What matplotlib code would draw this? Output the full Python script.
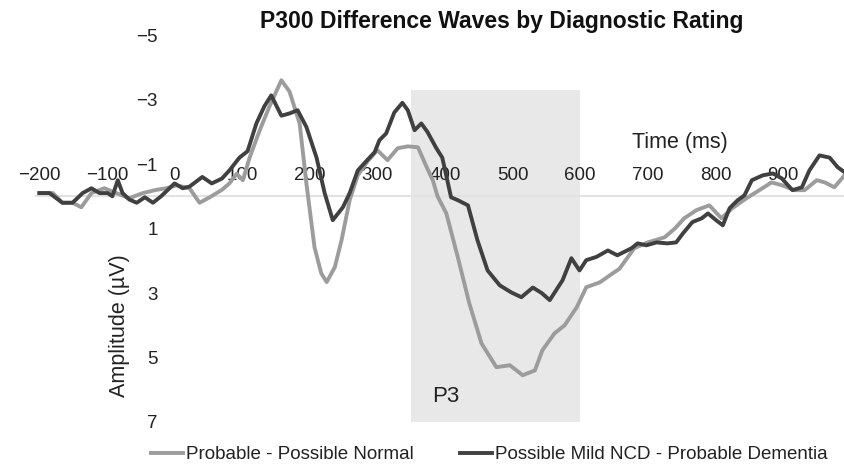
import numpy as np
import matplotlib
matplotlib.use("Agg")
import matplotlib.pyplot as plt

plt.rcParams['font.family'] = ['Liberation Sans', 'DejaVu Sans']

# time (ms) / amplitude (uV)
t_normal = [-200, -180, -166, -151, -138, -123, -104, -86, -67, -47, -27, -12, 3, 22, 37, 52,
            70, 81, 92, 101, 111, 126, 140, 158, 170, 185, 195, 207, 217, 225, 237, 247, 259,
            271, 286, 300, 315, 330, 345, 360, 373, 382, 389, 402, 419, 436, 454, 476, 496,
            515, 533, 544, 562, 577, 595, 609, 629, 648, 658, 680, 700, 725, 740, 754, 772,
            791, 809, 825, 846, 865, 883, 899, 917, 932, 950, 962, 976, 991]
v_normal = [-0.1, -0.1, 0.2, 0.2, 0.34, -0.1, -0.25, -0.1, 0.06, -0.1, -0.2, -0.25, -0.34,
            -0.25, 0.2, 0.03, -0.2, -0.4, -0.7, -0.5, -1.2, -2.05, -2.77, -3.6, -3.25, -2.26,
            -0.4, 1.58, 2.39, 2.66, 2.2, 1.36, 0.12, -0.65, -1.1, -1.43, -1.12, -1.49, -1.55,
            -1.52, -0.9, -0.5, 0.0, 0.53, 1.89, 3.32, 4.56, 5.3, 5.24, 5.55, 5.4, 4.78, 4.25,
            4.0, 3.44, 2.82, 2.67, 2.39, 2.25, 1.61, 1.43, 1.27, 1.0, 0.68, 0.43, 0.28, 0.68,
            0.37, 0.06, -0.19, -0.43, -0.34, -0.19, -0.19, -0.5, -0.43, -0.28, -0.65]

t_mild = [-200, -185, -166, -151, -136, -123, -111, -99, -92, -84, -77, -67, -56, -44, -32,
          -20, -10, 0, 12, 22, 41, 55, 70, 81, 96, 108, 121, 133, 143, 158, 170, 182, 195,
          210, 222, 234, 249, 259, 271, 284, 296, 303, 313, 325, 337, 345, 355, 365, 374,
          387, 396, 409, 419, 434, 448, 463, 481, 498, 513, 530, 543, 555, 574, 587, 599,
          609, 624, 641, 655, 676, 685, 698, 713, 729, 742, 752, 766, 780, 789, 801, 811,
          821, 833, 843, 854, 870, 885, 898, 914, 928, 939, 954, 969, 981, 991]
v_mild = [-0.1, -0.1, 0.2, 0.2, -0.1, -0.25, -0.1, -0.1, 0.0, -0.5, -0.1, 0.1, 0.2, 0.03,
          0.2, 0.0, -0.2, -0.4, -0.25, -0.3, -0.6, -0.4, -0.55, -0.8, -1.2, -1.4, -2.26,
          -2.8, -3.13, -2.5, -2.57, -2.67, -2.15, -1.2, -0.1, 0.74, 0.34, -0.1, -0.8, -1.1,
          -1.37, -1.74, -1.95, -2.6, -2.9, -2.67, -2.05, -2.26, -2.0, -1.5, -1.2, 0.03, 0.12,
          0.28, 1.36, 2.3, 2.76, 2.98, 3.13, 2.83, 3.0, 3.22, 2.6, 1.92, 2.3, 1.98, 1.88,
          1.68, 1.83, 1.61, 1.46, 1.52, 1.43, 1.46, 1.43, 1.15, 0.8, 0.68, 0.53, 0.74, 0.9,
          0.37, 0.12, -0.03, -0.5, -0.65, -0.71, -0.56, -0.19, -0.28, -0.8, -1.27, -1.2,
          -0.9, -0.75]

x_ticks = [-200, -100, 0, 100, 200, 300, 400, 500, 600, 700, 800, 900]
y_ticks = [-5, -3, -1, 1, 3, 5, 7]
p3_window = (350, 600)
p3_span = (-3.3, 7)

fig = plt.figure(figsize=(8.45, 4.65), dpi=100)
ax = fig.add_axes([0.0426, 0.0925, 0.956, 0.832])

ax.fill_between(p3_window, p3_span[0], p3_span[1], color='#e8e8e8', lw=0, zorder=0)
ax.plot(t_normal, v_normal, color='#9c9c9c', lw=2.8, label='Probable - Possible Normal',
        solid_joinstyle='round', zorder=2)
ax.plot(t_mild, v_mild, color='#404040', lw=2.8, label='Possible Mild NCD - Probable Dementia',
        solid_joinstyle='round', zorder=3)

ax.set_xlim(-205, 990)
ax.set_ylim(7, -5)

for s in ['right', 'bottom']:
    ax.spines[s].set_visible(False)
ax.spines['left'].set_position(('data', 0))
ax.spines['left'].set_color('none')
ax.spines['top'].set_position(('data', 0))
ax.spines['top'].set_color('#e2e2e2')
ax.spines['top'].set_linewidth(1.5)
ax.spines['top'].set_zorder(1)

ax.xaxis.tick_top()
ax.set_xticks(x_ticks)
ax.set_xticklabels([str(v).replace('-', '\u2212') for v in x_ticks])
ax.set_yticks(y_ticks)
ax.set_yticklabels([str(v).replace('-', '\u2212') for v in y_ticks])
ax.tick_params(axis='both', length=0, labelsize=13.5, colors='#222222')
ax.tick_params(axis='x', pad=9)
ax.tick_params(axis='y', pad=12)
ax.patch.set_visible(False)

fig.text(0.594, 0.953, 'P300 Difference Waves by Diagnostic Rating', ha='center', va='center',
         fontsize=16.5, fontweight='bold', color='#111111')
ax.text(747, -1.67, 'Time (ms)', ha='center', va='center', fontsize=15.5, color='#222222')
ax.text(-81, 4.0, 'Amplitude (\u00b5V)', ha='center', va='center', rotation=90,
        fontsize=15.5, color='#222222')
ax.text(381, 6.2, 'P3', ha='left', va='center', fontsize=16, color='#222222')

fig.legend(loc='center', bbox_to_anchor=(0.579, 0.022), ncol=2, frameon=False,
           fontsize=13.5, handlelength=1.7, handletextpad=0.15, columnspacing=2.5,
           labelcolor='#222222')

fig.savefig('out.png', dpi=100)
